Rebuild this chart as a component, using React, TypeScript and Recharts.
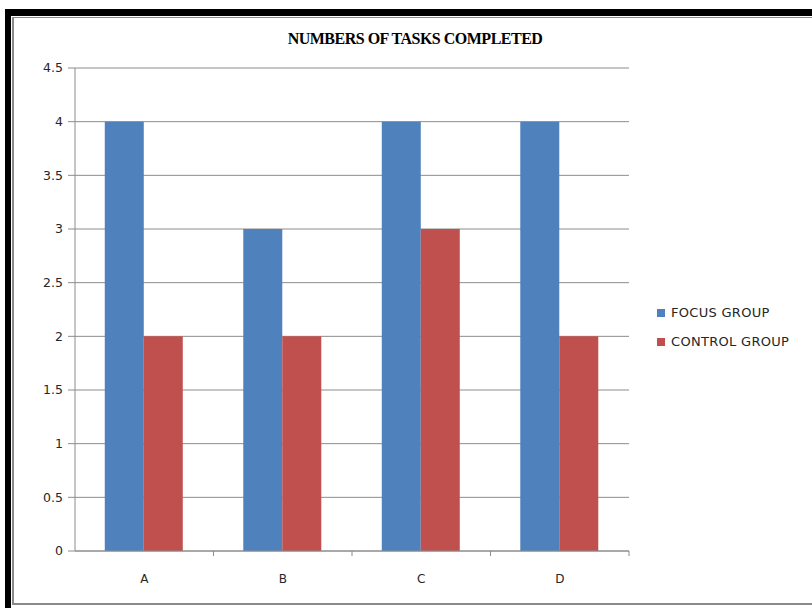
import React from 'react';
import { BarChart, Bar, XAxis, YAxis, CartesianGrid, Legend } from 'recharts';

const categories = ['A', 'B', 'C', 'D'];
const focusGroup = [4, 3, 4, 4];
const controlGroup = [2, 2, 3, 2];
const yTicks = [0, 0.5, 1, 1.5, 2, 2.5, 3, 3.5, 4, 4.5];

const COLORS = {
  focus: '#4F81BD',
  control: '#C0504D',
  grid: '#8c8c8c',
  text: '#262626',
};

const X_TICK_SIZE = 6;
const X_TICK_MARGIN = 17;

const data = categories.map((name, i) => ({
  name,
  focus: focusGroup[i],
  control: controlGroup[i],
}));

// category label plus a small tick mark at the right edge of the band
const CategoryTick = ({ x, y, payload }: any) => {
  const axisY = y - X_TICK_SIZE - X_TICK_MARGIN;
  const edge = x + (payload?.offset || 0);
  return (
    <g>
      <line x1={edge} x2={edge} y1={axisY} y2={axisY + 5} stroke={COLORS.grid} />
      <text
        x={x}
        y={y}
        dy="0.71em"
        textAnchor="middle"
        fill={COLORS.text}
        fontSize={12}
        fontFamily='"DejaVu Sans", sans-serif'
      >
        {payload.value}
      </text>
    </g>
  );
};

const LegendContent = () => (
  <div style={{ fontFamily: '"DejaVu Sans", sans-serif', fontSize: 13, letterSpacing: 0.3, color: COLORS.text }}>
    {[
      { label: 'FOCUS GROUP', color: COLORS.focus },
      { label: 'CONTROL GROUP', color: COLORS.control },
    ].map((item) => (
      <div key={item.label} style={{ display: 'flex', alignItems: 'center', height: 29 }}>
        <span style={{ width: 8, height: 8, background: item.color, marginRight: 6, display: 'inline-block' }} />
        <span>{item.label}</span>
      </div>
    ))}
  </div>
);

export default function App() {
  return (
    <div style={{ position: 'fixed', left: 0, top: 0, width: 812, height: 608, background: '#fff', overflow: 'hidden' }}>
      {/* frame */}
      <div style={{ position: 'absolute', left: 5, top: 9, width: 807, height: 7, background: '#000' }} />
      <div style={{ position: 'absolute', left: 5, top: 9, width: 6, height: 599, background: '#000' }} />
      <div style={{ position: 'absolute', left: 12, top: 17, width: 800, height: 588, borderLeft: '2px solid #8a8a8a', borderTop: '1px solid #8a8a8a', borderBottom: '2px solid #8a8a8a', boxSizing: 'border-box' }} />
      <div
        style={{
          position: 'absolute',
          left: 0,
          width: 830,
          top: 30,
          textAlign: 'center',
          fontFamily: '"Liberation Serif", serif',
          fontWeight: 'bold',
          fontSize: 16,
          letterSpacing: -0.5,
          color: '#000',
        }}
      >
        NUMBERS OF TASKS COMPLETED
      </div>
      <div style={{ position: 'absolute', left: 0, top: 0 }}>
        <BarChart
          width={812}
          height={608}
          data={data}
          margin={{ top: 68, right: 183, bottom: 0, left: 0 }}
          barCategoryGap="21.5%"
          barGap={0}
        >
          <CartesianGrid vertical={false} stroke={COLORS.grid} />
          <XAxis
            dataKey="name"
            height={57}
            axisLine={{ stroke: COLORS.grid }}
            tickLine={false}
            tickSize={X_TICK_SIZE}
            tickMargin={X_TICK_MARGIN}
            tick={<CategoryTick />}
          />
          <YAxis
            width={75}
            domain={[0, 4.5]}
            ticks={yTicks}
            interval={0}
            axisLine={{ stroke: COLORS.grid }}
            tickLine={{ stroke: COLORS.grid }}
            tickSize={7}
            tickMargin={5}
            tick={{ fill: COLORS.text, fontSize: 12.5, fontFamily: '"DejaVu Sans", sans-serif' }}
          />
          <Legend
            layout="vertical"
            align="center"
            verticalAlign="middle"
            content={<LegendContent />}
            wrapperStyle={{ left: 657, top: 298, width: 160 }}
          />
          <Bar dataKey="focus" name="FOCUS GROUP" fill={COLORS.focus} isAnimationActive={false} />
          <Bar dataKey="control" name="CONTROL GROUP" fill={COLORS.control} isAnimationActive={false} />
        </BarChart>
      </div>
    </div>
  );
}
